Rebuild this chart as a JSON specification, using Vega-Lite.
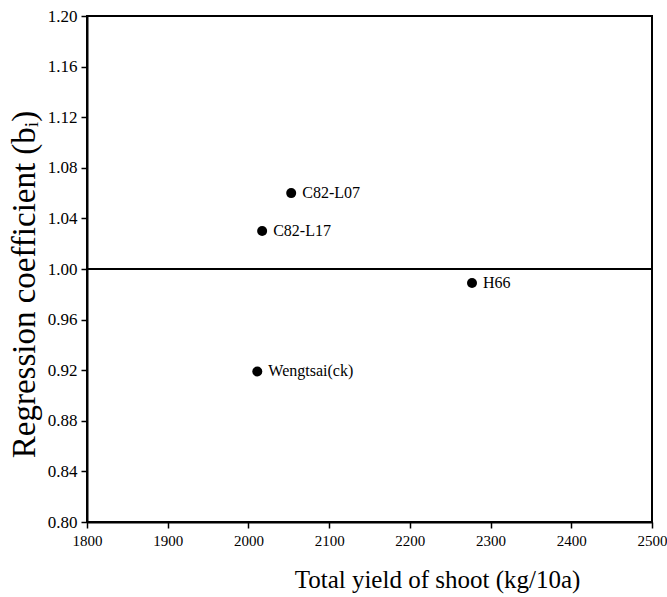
{
  "$schema": "https://vega.github.io/schema/vega-lite/v6.json",
  "autosize": "none",
  "width": 565,
  "height": 506,
  "padding": {"left": 87, "top": 16, "right": 15, "bottom": 75},
  "background": "white",
  "config": {
    "font": "Liberation Serif",
    "view": {"stroke": "black", "strokeWidth": 2},
    "axis": {
      "domainColor": "black",
      "domainWidth": 2,
      "tickColor": "black",
      "tickWidth": 1.5,
      "tickSize": 6,
      "grid": false,
      "labelFlush": false,
      "labelFont": "Liberation Serif",
      "labelFontSize": 17,
      "labelColor": "black",
      "titleFont": "Liberation Serif",
      "titleFontWeight": "normal",
      "titleColor": "black"
    }
  },
  "datasets": {
    "pts": [
      {"line": "C82-L07", "yield": 2053, "b": 1.06},
      {"line": "C82-L17", "yield": 2017, "b": 1.03},
      {"line": "H66", "yield": 2277, "b": 0.989},
      {"line": "Wengtsai(ck)", "yield": 2011, "b": 0.919}
    ],
    "ref": [{"b": 1.0}]
  },
  "layer": [
    {
      "data": {"name": "ref"},
      "mark": {"type": "rule", "color": "black", "strokeWidth": 2},
      "encoding": {"y": {"field": "b", "type": "quantitative"}}
    },
    {
      "data": {"name": "pts"},
      "mark": {"type": "point", "filled": true, "color": "black", "opacity": 1, "size": 100},
      "encoding": {
        "x": {
          "field": "yield", "type": "quantitative",
          "scale": {"domain": [1800, 2500], "nice": false, "zero": false},
          "axis": {"values": [1800, 1900, 2000, 2100, 2200, 2300, 2400, 2500], "format": "d", "labelFontSize": 15, "labelPadding": 5, "title": "Total yield of shoot (kg/10a)", "titleFontSize": 25, "titlePadding": 19, "titleX": 350}
        },
        "y": {
          "field": "b", "type": "quantitative",
          "scale": {"domain": [0.8, 1.2], "nice": false, "zero": false},
          "axis": {"values": [0.8, 0.84, 0.88, 0.92, 0.96, 1.0, 1.04, 1.08, 1.12, 1.16, 1.2], "format": ".2f", "labelPadding": 4, "title": "Regression coefficient (bᵢ)", "titleFontSize": 33, "titlePadding": 6, "titleY": 268}
        }
      }
    },
    {
      "data": {"name": "pts"},
      "mark": {"type": "text", "align": "left", "baseline": "middle", "dx": 11, "fontSize": 16, "font": "Liberation Serif", "color": "black"},
      "encoding": {
        "x": {"field": "yield", "type": "quantitative"},
        "y": {"field": "b", "type": "quantitative"},
        "text": {"field": "line"}
      }
    }
  ]
}
